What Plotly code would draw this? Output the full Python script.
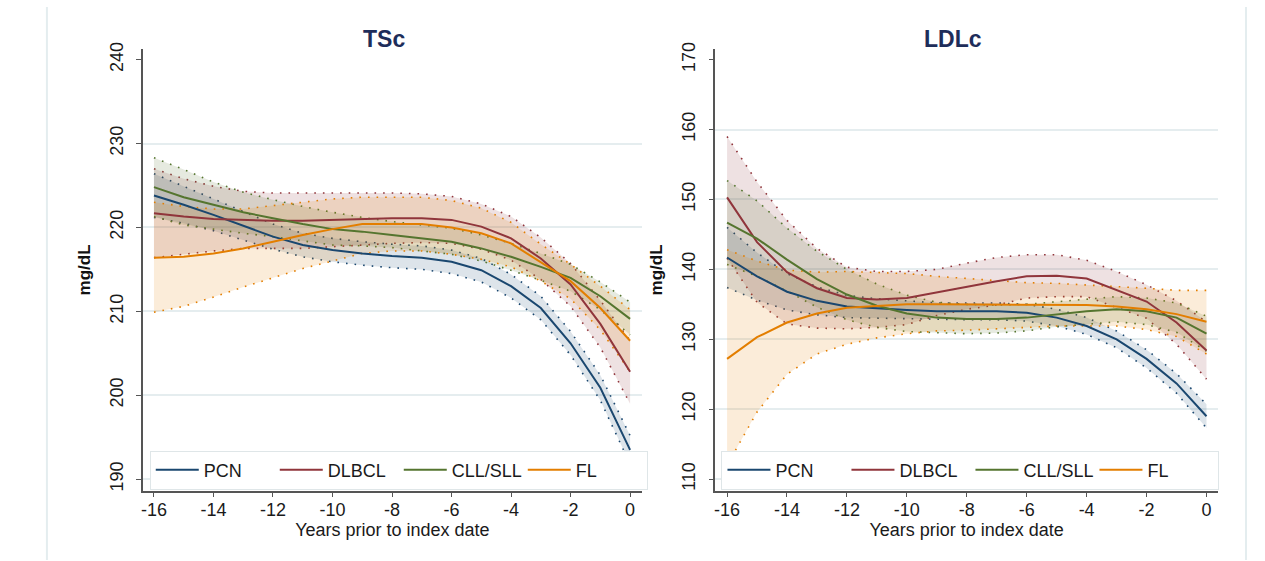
import plotly.graph_objects as go

# ---------------- data ----------------
years = list(range(-16, 1))
series = ["PCN", "DLBCL", "CLL/SLL", "FL"]
line_colors = ["#1a476f", "#90353b", "#55752f", "#e37e00"]
fill_colors = ["rgba(26,71,111,0.15)", "rgba(144,53,59,0.15)",
               "rgba(85,117,47,0.15)", "rgba(227,126,0,0.15)"]

# TSc panel
tsc_pcn = [223.8, 222.7, 221.5, 220.2, 218.9, 217.9, 217.3, 216.9, 216.6, 216.4, 215.9, 214.9, 213.0, 210.4, 206.2, 200.9, 193.5]
tsc_pcn_hi = [226.4, 224.9, 223.4, 221.9, 220.4, 219.3, 218.7, 218.3, 218.0, 217.8, 217.3, 216.3, 214.4, 211.8, 207.6, 202.4, 195.2]
tsc_pcn_lo = [221.2, 220.5, 219.6, 218.5, 217.4, 216.5, 215.9, 215.5, 215.2, 215.0, 214.5, 213.5, 211.6, 209.0, 204.8, 199.4, 191.8]

tsc_dlbcl = [221.7, 221.3, 221.0, 220.9, 220.8, 220.8, 220.9, 221.0, 221.1, 221.1, 220.9, 220.1, 218.7, 216.3, 213.2, 208.5, 202.8]
tsc_dlbcl_hi = [227.0, 225.8, 224.9, 224.3, 224.1, 224.1, 224.1, 224.1, 224.1, 224.0, 223.7, 222.8, 221.3, 218.8, 215.7, 211.3, 206.5]
tsc_dlbcl_lo = [216.4, 216.8, 217.2, 217.5, 217.5, 217.5, 217.7, 217.9, 218.1, 218.2, 218.1, 217.4, 216.1, 213.8, 210.6, 205.7, 199.0]

tsc_cll = [224.8, 223.6, 222.7, 221.8, 221.1, 220.4, 219.8, 219.5, 219.1, 218.7, 218.3, 217.5, 216.5, 215.3, 214.0, 211.8, 209.1]
tsc_cll_hi = [228.3, 226.9, 225.4, 224.2, 223.3, 222.5, 221.8, 221.2, 220.7, 220.3, 219.9, 219.1, 218.1, 216.9, 215.6, 213.5, 211.1]
tsc_cll_lo = [221.3, 220.3, 219.8, 219.3, 218.9, 218.4, 217.9, 217.8, 217.6, 217.2, 216.8, 216.0, 214.9, 213.7, 212.4, 210.2, 207.2]

tsc_fl = [216.4, 216.5, 216.9, 217.5, 218.3, 219.1, 219.8, 220.4, 220.4, 220.4, 220.0, 219.3, 218.1, 215.9, 213.6, 210.4, 206.5]
tsc_fl_hi = [223.0, 222.5, 222.2, 222.2, 222.6, 223.0, 223.4, 223.6, 223.6, 223.6, 223.2, 222.3, 220.6, 218.0, 215.6, 213.0, 210.2]
tsc_fl_lo = [209.9, 210.6, 211.7, 212.9, 214.0, 215.1, 216.0, 216.9, 217.2, 217.2, 216.8, 216.2, 215.3, 213.6, 211.5, 207.8, 202.8]

# LDLc panel
ldl_pcn = [141.7, 139.0, 136.8, 135.5, 134.7, 134.4, 134.2, 134.0, 134.0, 134.0, 133.8, 133.1, 131.9, 130.0, 127.2, 123.7, 119.0]
ldl_pcn_hi = [146.0, 142.4, 139.4, 137.5, 136.3, 135.8, 135.5, 135.2, 135.2, 135.2, 135.0, 134.3, 133.1, 131.2, 128.5, 125.1, 120.7]
ldl_pcn_lo = [137.4, 135.6, 134.2, 133.5, 133.1, 133.0, 132.9, 132.8, 132.8, 132.8, 132.6, 131.9, 130.7, 128.8, 125.9, 122.3, 117.3]

ldl_dlbcl = [150.3, 143.9, 139.6, 137.3, 135.9, 135.7, 135.9, 136.7, 137.6, 138.3, 139.0, 139.1, 138.7, 137.1, 135.4, 132.4, 128.4]
ldl_dlbcl_hi = [159.0, 152.5, 147.0, 143.0, 140.3, 139.7, 139.7, 140.0, 140.9, 141.7, 142.1, 142.1, 141.3, 139.7, 137.8, 135.5, 132.5]
ldl_dlbcl_lo = [141.6, 135.3, 132.2, 131.6, 131.5, 131.7, 132.1, 133.4, 134.3, 134.9, 135.9, 136.1, 136.1, 134.5, 133.0, 129.3, 124.3]

ldl_cll = [146.7, 144.4, 141.4, 138.6, 136.4, 134.8, 133.7, 133.1, 132.9, 132.9, 133.1, 133.6, 134.0, 134.3, 134.0, 133.1, 130.8]
ldl_cll_hi = [152.7, 149.8, 145.9, 142.6, 140.0, 137.9, 136.3, 135.3, 135.0, 134.9, 135.0, 135.4, 135.8, 136.1, 135.9, 135.2, 133.3]
ldl_cll_lo = [140.7, 139.0, 136.9, 134.6, 132.8, 131.7, 131.1, 130.9, 130.8, 130.9, 131.2, 131.8, 132.2, 132.5, 132.1, 131.0, 128.3]

ldl_fl = [127.2, 130.3, 132.4, 133.7, 134.5, 134.8, 135.0, 135.0, 135.0, 135.0, 135.0, 135.0, 134.9, 134.7, 134.3, 133.6, 132.5]
ldl_fl_hi = [142.8, 141.2, 139.9, 139.6, 139.7, 139.6, 139.4, 139.0, 138.7, 138.4, 138.1, 138.0, 137.8, 137.6, 137.3, 137.0, 137.0]
ldl_fl_lo = [112.0, 119.6, 125.0, 127.9, 129.3, 130.2, 130.8, 131.2, 131.3, 131.5, 131.7, 131.9, 131.9, 131.9, 131.4, 130.4, 127.9]

x_ticks = [-16, -14, -12, -10, -8, -6, -4, -2, 0]
x_ticktext = ["-16", "-14", "-12", "-10", "-8", "-6", "-4", "-2", "0"]
tsc_ticks = [190, 200, 210, 220, 230, 240]
ldl_ticks = [110, 120, 130, 140, 150, 160, 170]

panels = [
    dict(title="TSc", xa="x", ya="y", legend="legend",
         mean=[tsc_pcn, tsc_dlbcl, tsc_cll, tsc_fl],
         hi=[tsc_pcn_hi, tsc_dlbcl_hi, tsc_cll_hi, tsc_fl_hi],
         lo=[tsc_pcn_lo, tsc_dlbcl_lo, tsc_cll_lo, tsc_fl_lo]),
    dict(title="LDLc", xa="x2", ya="y2", legend="legend2",
         mean=[ldl_pcn, ldl_dlbcl, ldl_cll, ldl_fl],
         hi=[ldl_pcn_hi, ldl_dlbcl_hi, ldl_cll_hi, ldl_fl_hi],
         lo=[ldl_pcn_lo, ldl_dlbcl_lo, ldl_cll_lo, ldl_fl_lo]),
]

FONT = "Liberation Sans, Arial, sans-serif"
fig = go.Figure()

for p in panels:
    # confidence bands
    for i, name in enumerate(series):
        fig.add_trace(go.Scatter(
            x=years, y=p["hi"][i], mode="lines", xaxis=p["xa"], yaxis=p["ya"],
            line=dict(color=line_colors[i], width=1.6, dash="1.6px,7px"),
            showlegend=False, hoverinfo="skip"))
        fig.add_trace(go.Scatter(
            x=years, y=p["lo"][i], mode="lines", xaxis=p["xa"], yaxis=p["ya"],
            line=dict(color=line_colors[i], width=1.6, dash="1.6px,7px"),
            fill="tonexty", fillcolor=fill_colors[i],
            showlegend=False, hoverinfo="skip"))
    # fitted lines
    for i, name in enumerate(series):
        fig.add_trace(go.Scatter(
            x=years, y=p["mean"][i], mode="lines", name=name,
            xaxis=p["xa"], yaxis=p["ya"], legend=p["legend"],
            line=dict(color=line_colors[i], width=2)))

W, H = 1265, 561
axis_col = "#555555"
grid_col = "#e5edef"

def xaxis_cfg(x0, x1, rng):
    return dict(domain=[x0 / W, x1 / W], range=rng,
                tickvals=x_ticks, ticktext=x_ticktext, ticks="outside", ticklen=5, tickwidth=1.3,
                tickcolor=axis_col, showline=True, linecolor=axis_col, linewidth=1.5,
                showgrid=False, zeroline=False, ticklabelstandoff=-3,
                tickfont=dict(size=18, color="#1a1a1a", family=FONT),
                title=dict(text="Years prior to index date",
                           font=dict(size=18, color="#1a1a1a", family=FONT), standoff=4))

def yaxis_cfg(rng, ticks):
    return dict(domain=[(H - 490.7) / H, (H - 42.7) / H], range=rng,
                tickvals=ticks, tickangle=-90, ticks="outside", ticklen=5, tickwidth=1.3,
                tickcolor=axis_col, showline=True, linecolor=axis_col, linewidth=1.5,
                showgrid=False, zeroline=False,
                minor=dict(tickvals=ticks[:-1], showgrid=True, gridcolor=grid_col,
                           gridwidth=1.5, ticklen=0),
                ticklabelstandoff=6,
                tickfont=dict(size=18, color="#1a1a1a", family=FONT),
                title=dict(text="<b>mg/dL</b>",
                           font=dict(size=17, color="#111111", family=FONT), standoff=12))

xa1 = xaxis_cfg(141, 641, [-16.376, 0.4]); xa1["anchor"] = "y"
xa2 = xaxis_cfg(714.5, 1217.8, [-16.39, 0.38]); xa2["anchor"] = "y2"
ya1 = yaxis_cfg([188.63, 241.25], tsc_ticks); ya1["anchor"] = "x"
ya2 = yaxis_cfg([108.35, 171.5], ldl_ticks); ya2["anchor"] = "x2"

legend_common = dict(orientation="h", yanchor="top", xanchor="left",
                     traceorder="normal",
                     bgcolor="white", bordercolor="#dfe6e8", borderwidth=1,
                     font=dict(size=18, color="#1a1a1a", family=FONT),
                     itemwidth=43, entrywidth=66, entrywidthmode="pixels")

fig.update_layout(
    width=W, height=H,
    margin=dict(l=0, r=0, t=0, b=0),
    paper_bgcolor="white", plot_bgcolor="white",
    font=dict(family=FONT),
    xaxis=xa1, yaxis=ya1, xaxis2=xa2, yaxis2=ya2,
    legend=dict(x=148 / W, y=(H - 450) / H, **legend_common),
    legend2=dict(x=720.6 / W, y=(H - 450) / H, **legend_common),
    annotations=[
        dict(text="<b>TSc</b>", x=383 / W, y=(H - 32) / H, xref="paper", yref="paper",
             xanchor="center", yanchor="middle", showarrow=False,
             font=dict(size=23, color="#1e2d5a", family=FONT)),
        dict(text="<b>LDLc</b>", x=953 / W, y=(H - 32) / H, xref="paper", yref="paper",
             xanchor="center", yanchor="middle", showarrow=False,
             font=dict(size=23, color="#1e2d5a", family=FONT)),
    ],
    shapes=[
        dict(type="line", xref="paper", yref="paper", x0=45 / W, x1=45 / W, y0=0, y1=1,
             line=dict(color="#e4edef", width=2)),
        dict(type="line", xref="paper", yref="paper", x0=1246 / W, x1=1246 / W, y0=0, y1=1,
             line=dict(color="#e4edef", width=2)),
    ],
    showlegend=True,
)

fig.write_html("out.html")
